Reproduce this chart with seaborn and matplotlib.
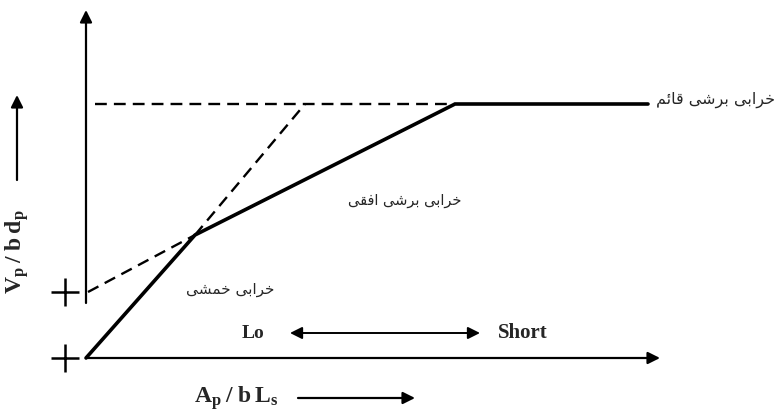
import matplotlib
matplotlib.use("Agg")
import matplotlib.pyplot as plt
import seaborn as sns

sns.set_style("white")
plt.rcParams['font.family'] = ['Liberation Serif', 'DejaVu Sans']
plt.rcParams['mathtext.fontset'] = 'custom'
plt.rcParams['mathtext.rm'] = 'Liberation Serif'
plt.rcParams['mathtext.it'] = 'Liberation Serif:italic'
plt.rcParams['mathtext.bf'] = 'Liberation Serif:bold'

# Shear-strength envelope (normalised units)
envelope_x = [0.0, 1.09, 3.69, 5.62]
envelope_y = [0.0, 1.23, 2.54, 2.54]
# Extension of the flexural branch
flexure_ext_x = [1.09, 2.19]
flexure_ext_y = [1.23, 2.54]
# Extension of the horizontal-shear branch back to the axis
hshear_ext_x = [0.02, 1.09]
hshear_ext_y = [0.66, 1.23]
# Vertical-shear capacity
vshear_x = [0.09, 3.69]
vshear_y = [2.54, 2.54]
# Axis marks
tick_y = [0.66, 0.0]

# Persian words written with Arabic presentation forms, laid out right-to-left
w_kharabi = "\uFEF0\uFE91\uFE8D\uFEAE\uFEA7"
w_barshi = "\uFEF0\uFEB7\uFEAE\uFE91"
w_ghaem = "\uFEE2\uFE8B\uFE8E\uFED7"
w_ofoghi = "\uFEF0\uFED8\uFED3\uFE8D"
w_khamshi = "\uFEF0\uFEB8\uFEE4\uFEA7"


def rtl(*words):
    return " ".join(reversed(words))


label_vshear = rtl(w_kharabi, w_barshi, w_ghaem)
label_hshear = rtl(w_kharabi, w_barshi, w_ofoghi)
label_flex = rtl(w_kharabi, w_khamshi)
label_lo = "Lo"
label_short = "Short"
label_x = r"$\mathbf{A_p}\;\mathbf{/}\;\mathbf{b}\;\mathbf{L_s}$"
label_y = r"$\mathbf{V_p}\;\mathbf{/}\;\mathbf{b}\;\mathbf{d_p}$"

fig = plt.figure(figsize=(7.76, 4.15), dpi=100)
ax = fig.add_axes([0, 0, 1, 1])
ax.set_xlim(-0.86, 6.90)
ax.set_ylim(-0.57, 3.58)
ax.axis("off")

dash = (0, (5, 3))
sns.lineplot(x=envelope_x, y=envelope_y, color="black", lw=2.6, ax=ax, sort=False)
sns.lineplot(x=flexure_ext_x, y=flexure_ext_y, color="black", lw=1.7, ax=ax,
             sort=False, linestyle=dash)
sns.lineplot(x=hshear_ext_x, y=hshear_ext_y, color="black", lw=1.7, ax=ax,
             sort=False, linestyle=dash)
sns.lineplot(x=vshear_x, y=vshear_y, color="black", lw=1.7, ax=ax,
             sort=False, linestyle=dash)

# Axes drawn as arrows
arrow = dict(arrowstyle="-|>", color="black", lw=1.6, mutation_scale=18,
             shrinkA=0, shrinkB=0)
ax.annotate("", xy=(5.74, 0.0), xytext=(0.0, 0.0), arrowprops=arrow)
ax.annotate("", xy=(0.0, 3.48), xytext=(0.0, 0.55), arrowprops=arrow)

ax.plot([-0.21] * len(tick_y), tick_y, "+", color="black", ms=20, mew=1.8)

# Lo <-> Short range
ax.annotate("", xy=(2.04, 0.25), xytext=(3.94, 0.25),
            arrowprops=dict(arrowstyle="<|-|>", color="black", lw=1.4,
                            mutation_scale=18, shrinkA=0, shrinkB=0))
ax.text(1.67, 0.25, label_lo, fontsize=14, fontweight="bold",
        ha="center", va="center")
ax.text(4.12, 0.25, label_short, fontsize=15, fontweight="bold",
        ha="left", va="center")

# Axis titles with direction arrows
ax.text(1.50, -0.40, label_x, fontsize=17, ha="center", va="center")
ax.annotate("", xy=(3.29, -0.40), xytext=(2.12, -0.40), arrowprops=arrow)
ax.text(-0.69, 1.06, label_y, fontsize=17, rotation=90,
        ha="center", va="center")
ax.annotate("", xy=(-0.69, 2.63), xytext=(-0.69, 1.78), arrowprops=arrow)

# Failure-mode labels
ax.text(6.89, 2.58, label_vshear, fontsize=11.5, family="DejaVu Sans",
        ha="right", va="center")
ax.text(3.19, 1.58, label_hshear, fontsize=10.5, family="DejaVu Sans",
        ha="center", va="center")
ax.text(1.44, 0.69, label_flex, fontsize=11, family="DejaVu Sans",
        ha="center", va="center")

fig.savefig("out.png", dpi=100, facecolor="white")
